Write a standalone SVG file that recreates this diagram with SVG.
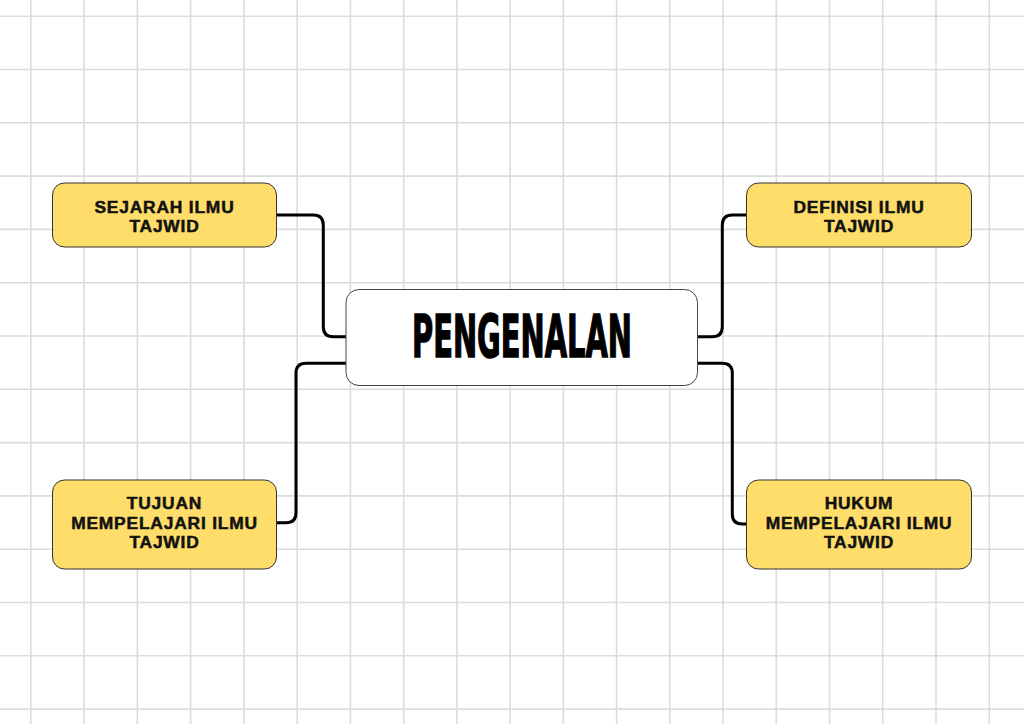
<svg xmlns="http://www.w3.org/2000/svg" width="1024" height="724" viewBox="0 0 1024 724">
<style>
.g{stroke:#dcdcdc;stroke-width:1.6}
.box{fill:#fedd6a;stroke:#333;stroke-width:1}
.c{fill:#fff;stroke:#444;stroke-width:1}
.t{font-family:"Liberation Sans",Arial,sans-serif;font-weight:bold;font-size:17.4px;letter-spacing:0.8px;fill:#111;stroke:#111;stroke-width:0.5;text-anchor:middle}
.w{fill:none;stroke:#000;stroke-width:3;stroke-linejoin:round}
</style>
<rect width="1024" height="724" fill="#fff"/>
<g id="grid">
<line class="g" x1="30.8" y1="0" x2="30.8" y2="724"/>
<line class="g" x1="84" y1="0" x2="84" y2="724"/>
<line class="g" x1="137.3" y1="0" x2="137.3" y2="724"/>
<line class="g" x1="190.6" y1="0" x2="190.6" y2="724"/>
<line class="g" x1="243.9" y1="0" x2="243.9" y2="724"/>
<line class="g" x1="297.2" y1="0" x2="297.2" y2="724"/>
<line class="g" x1="350.4" y1="0" x2="350.4" y2="724"/>
<line class="g" x1="403.7" y1="0" x2="403.7" y2="724"/>
<line class="g" x1="456.9" y1="0" x2="456.9" y2="724"/>
<line class="g" x1="510.1" y1="0" x2="510.1" y2="724"/>
<line class="g" x1="563.3" y1="0" x2="563.3" y2="724"/>
<line class="g" x1="616.6" y1="0" x2="616.6" y2="724"/>
<line class="g" x1="669.8" y1="0" x2="669.8" y2="724"/>
<line class="g" x1="723" y1="0" x2="723" y2="724"/>
<line class="g" x1="776.3" y1="0" x2="776.3" y2="724"/>
<line class="g" x1="829.5" y1="0" x2="829.5" y2="724"/>
<line class="g" x1="882.7" y1="0" x2="882.7" y2="724"/>
<line class="g" x1="936" y1="0" x2="936" y2="724"/>
<line class="g" x1="989.3" y1="0" x2="989.3" y2="724"/>
<line class="g" x1="0" y1="16.2" x2="1024" y2="16.2"/>
<line class="g" x1="0" y1="69.5" x2="1024" y2="69.5"/>
<line class="g" x1="0" y1="122.8" x2="1024" y2="122.8"/>
<line class="g" x1="0" y1="176.1" x2="1024" y2="176.1"/>
<line class="g" x1="0" y1="229.4" x2="1024" y2="229.4"/>
<line class="g" x1="0" y1="282.7" x2="1024" y2="282.7"/>
<line class="g" x1="0" y1="336" x2="1024" y2="336"/>
<line class="g" x1="0" y1="389.3" x2="1024" y2="389.3"/>
<line class="g" x1="0" y1="442.6" x2="1024" y2="442.6"/>
<line class="g" x1="0" y1="495.9" x2="1024" y2="495.9"/>
<line class="g" x1="0" y1="549.2" x2="1024" y2="549.2"/>
<line class="g" x1="0" y1="602.5" x2="1024" y2="602.5"/>
<line class="g" x1="0" y1="655.8" x2="1024" y2="655.8"/>
<line class="g" x1="0" y1="709.1" x2="1024" y2="709.1"/>
</g>
<g id="connectors">
<path class="w" d="M277 215 H313.3 Q323.3 215 323.3 225 V326.7 Q323.3 336.7 333.3 336.7 H346"/>
<path class="w" d="M346 363.3 H306 Q296 363.3 296 373.3 V512.7 Q296 522.7 286 522.7 H277"/>
<path class="w" d="M697.7 336.7 H712.3 Q722.3 336.7 722.3 326.7 V225 Q722.3 215 732.3 215 H746.5"/>
<path class="w" d="M697.7 363.3 H722.3 Q732.3 363.3 732.3 373.3 V514 Q732.3 524 742.3 524 H746.5"/>
</g>
<g id="center">
<rect class="c" x="346" y="289.5" width="351.5" height="96" rx="13"/>
<text x="522" y="356.5" font-family="'Liberation Sans Narrow','DejaVu Sans Condensed','Liberation Sans',sans-serif" font-weight="900" font-size="59" fill="#000" stroke="#000" stroke-width="1.5" text-anchor="middle" textLength="220" lengthAdjust="spacingAndGlyphs">PENGENALAN</text>
</g>
<g id="sejarah">
<rect class="box" x="52.5" y="183" width="224" height="64" rx="12"/>
<text class="t"><tspan x="164.5" y="212.5">SEJARAH ILMU</tspan><tspan x="164.5" y="232">TAJWID</tspan></text>
</g>
<g id="definisi">
<rect class="box" x="746.5" y="183" width="225" height="64" rx="12"/>
<text class="t"><tspan x="859" y="212.5">DEFINISI ILMU</tspan><tspan x="859" y="232">TAJWID</tspan></text>
</g>
<g id="tujuan">
<rect class="box" x="52.5" y="480" width="224" height="89" rx="12"/>
<text class="t"><tspan x="164.5" y="509.3">TUJUAN</tspan><tspan x="164.5" y="528.8">MEMPELAJARI ILMU</tspan><tspan x="164.5" y="548.3">TAJWID</tspan></text>
</g>
<g id="hukum">
<rect class="box" x="746.5" y="480" width="225" height="89" rx="12"/>
<text class="t"><tspan x="859" y="509.3">HUKUM</tspan><tspan x="859" y="528.8">MEMPELAJARI ILMU</tspan><tspan x="859" y="548.3">TAJWID</tspan></text>
</g>
</svg>
